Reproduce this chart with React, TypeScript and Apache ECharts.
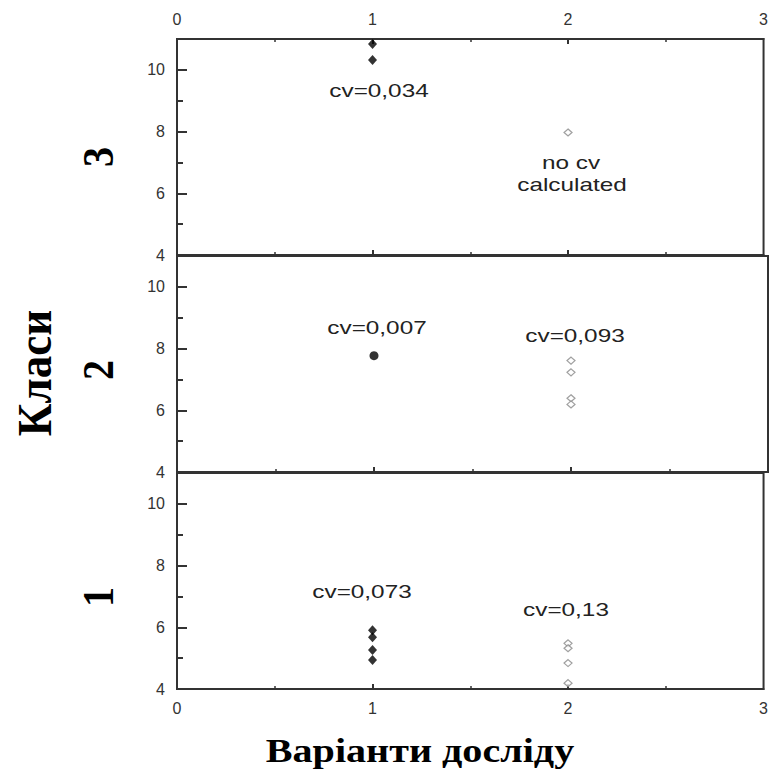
import React, { useEffect, useRef } from "react";
import * as echarts from "echarts";

// Data
const xTicks = [0, 1, 2, 3];
const yMajorTicks = [4, 6, 8, 10];
const yMinorTicks = [5, 7, 9];
const panelNames = ["3", "2", "1"];
// variant 1 (filled) and variant 2 (open) per class panel, top to bottom
const class3Variant1 = [10.84, 10.32];
const class3Variant2 = [7.97];
const class2Variant1 = [7.77];
const class2Variant2 = [7.61, 7.23, 6.39, 6.19];
const class1Variant1 = [5.9, 5.68, 5.26, 4.94];
const class1Variant2 = [5.48, 5.32, 4.84, 4.19];
const cvLabels = [
  { text: "cv=0,034", x: 379, y: 90 },
  { text: "no cv", x: 571, y: 162 },
  { text: "calculated", x: 572, y: 184 },
  { text: "cv=0,007", x: 377, y: 327 },
  { text: "cv=0,093", x: 575, y: 335 },
  { text: "cv=0,073", x: 362, y: 591 },
  { text: "cv=0,13", x: 566, y: 609 },
];

const AXIS = "#333";
const SANS = "'Liberation Sans', Arial, sans-serif";
const SERIF = "'Liberation Serif', 'Times New Roman', serif";

export default function App() {
  const ref = useRef<HTMLDivElement>(null);
  useEffect(() => {
    if (!ref.current) return;
    const chart = echarts.init(ref.current, undefined, { renderer: "svg" });
    const tops = [39, 256, 473];
    const h = 216;
    const grids = tops.map((t) => ({
      left: 177,
      right: 3,
      top: t,
      height: h,
      show: true,
      borderColor: AXIS,
      borderWidth: 2,
      backgroundColor: "transparent",
    }));
    const xAxes: any[] = [];
    tops.forEach((_, i) => {
      xAxes.push({
        type: "value",
        gridIndex: i,
        min: 0,
        max: 3,
        interval: 1,
        position: "bottom",
        axisLine: { show: true, lineStyle: { color: AXIS, width: 2 } },
        axisTick: { show: true, inside: true, length: 5, customValues: [1, 2], lineStyle: { color: AXIS, width: 2 } },
        minorTick: { show: true, splitNumber: 2, length: 3, lineStyle: { color: AXIS, width: 1.5 } },
        splitLine: { show: false },
        axisLabel: {
          show: i === 2,
          margin: 11,
          fontSize: 16,
          color: AXIS,
          fontFamily: SANS,
          customValues: xTicks,
        },
      });
    });
    xAxes.push({
      type: "value",
      gridIndex: 0,
      min: 0,
      max: 3,
      interval: 1,
      position: "top",
      axisLine: { show: true, lineStyle: { color: AXIS, width: 2 } },
      axisTick: { show: true, inside: true, length: 5, customValues: [1, 2], lineStyle: { color: AXIS, width: 2 } },
      minorTick: { show: true, splitNumber: 2, length: 3, lineStyle: { color: AXIS, width: 1.5 } },
      splitLine: { show: false },
      axisLabel: { show: true, margin: 12, fontSize: 16, color: AXIS, fontFamily: SANS, customValues: xTicks },
    });
    const yAxes: any[] = [];
    tops.forEach((_, i) => {
      yAxes.push({
        type: "value",
        gridIndex: i,
        min: 4,
        max: 11,
        interval: 1,
        position: "left",
        axisLine: { show: true, lineStyle: { color: AXIS, width: 2 } },
        axisTick: { show: true, inside: true, length: 10, customValues: yMajorTicks, lineStyle: { color: AXIS, width: 2 } },
        splitLine: { show: false },
        axisLabel: { show: true, margin: 12, fontSize: 16, color: AXIS, fontFamily: SANS, customValues: yMajorTicks },
      });
      yAxes.push({
        type: "value",
        gridIndex: i,
        min: 4,
        max: 11,
        interval: 1,
        position: "left",
        axisLine: { show: false },
        axisTick: { show: true, inside: true, length: 6, customValues: yMinorTicks, lineStyle: { color: AXIS, width: 2 } },
        splitLine: { show: false },
        axisLabel: { show: false },
      });
    });
    const filled = (vals: number[], gi: number, symbol = "diamond", size: any = [9, 10]) => ({
      type: "scatter",
      xAxisIndex: gi,
      yAxisIndex: gi * 2,
      symbol,
      symbolSize: size,
      itemStyle: { color: "#000" },
      data: vals.map((v) => [1, v]),
    });
    const open = (vals: number[], gi: number) => ({
      type: "scatter",
      xAxisIndex: gi,
      yAxisIndex: gi * 2,
      symbol: "diamond",
      symbolSize: [8, 7],
      itemStyle: { color: "#fff", borderColor: "#888", borderWidth: 1.2 },
      data: vals.map((v) => [2, v]),
    });
    const graphics: any[] = [];
    cvLabels.forEach((l) => {
      graphics.push({
        type: "text",
        x: l.x,
        y: l.y,
        scaleX: 1.28,
        style: {
          text: l.text,
          fontSize: 19,
          fontFamily: SANS,
          fill: "#222",
          align: "center",
          verticalAlign: "middle",
        },
      });
    });
    const digitY = [157, 370, 597];
    panelNames.forEach((n, i) => {
      graphics.push({
        type: "text",
        x: 98,
        y: digitY[i],
        rotation: Math.PI / 2,
        scaleY: 1.1,
        style: {
          text: n,
          fontSize: 40,
          fontWeight: "bold",
          fontFamily: SERIF,
          fill: "#000",
          align: "center",
          verticalAlign: "middle",
        },
      });
    });
    graphics.push({
      type: "text",
      x: 34,
      y: 373,
      rotation: Math.PI / 2,
      scaleY: 1.1,
      style: {
        text: "Класи",
        fontSize: 45,
        fontWeight: "bold",
        fontFamily: SERIF,
        fill: "#000",
        align: "center",
        verticalAlign: "middle",
      },
    });
    graphics.push({
      type: "text",
      x: 420,
      y: 751,
      scaleX: 1.18,
      style: {
        text: "Варіанти досліду",
        fontSize: 34,
        fontWeight: "bold",
        fontFamily: SERIF,
        fill: "#000",
        align: "center",
        verticalAlign: "middle",
      },
    });
    chart.setOption({
      animation: false,
      backgroundColor: "#fff",
      grid: grids,
      xAxis: xAxes,
      yAxis: yAxes,
      series: [
        filled(class3Variant1, 0),
        open(class3Variant2, 0),
        filled(class2Variant1, 1, "circle", 9),
        open(class2Variant2, 1),
        filled(class1Variant1, 2),
        open(class1Variant2, 2),
      ],
      graphic: graphics,
    });
    return () => chart.dispose();
  }, []);
  return (
    <div
      ref={ref}
      style={{ position: "fixed", left: 0, top: 0, width: 771, height: 769 }}
    />
  );
}
